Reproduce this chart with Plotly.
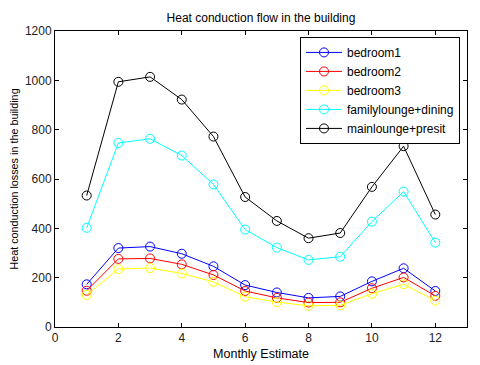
import plotly.graph_objects as go

months = list(range(1, 13))

bedroom1 = [173, 320, 326, 297, 246, 170, 140, 118, 124, 185, 238, 146]
bedroom2 = [147, 276, 278, 254, 211, 146, 118, 99, 100, 157, 201, 126]
bedroom3 = [130, 235, 239, 217, 183, 123, 101, 86, 88, 135, 173, 107]
family_lounge = [402, 746, 763, 695, 578, 395, 322, 272, 285, 427, 549, 342]
main_lounge = [533, 994, 1014, 922, 772, 527, 430, 360, 381, 568, 733, 456]

series = [
    ("bedroom1", bedroom1, "#0000ff"),
    ("bedroom2", bedroom2, "#ff0000"),
    ("bedroom3", bedroom3, "#ffff00"),
    ("familylounge+dining", family_lounge, "#00ffff"),
    ("mainlounge+presit", main_lounge, "#000000"),
]

x_ticks = [0, 2, 4, 6, 8, 10, 12]
y_ticks = [0, 200, 400, 600, 800, 1000, 1200]

font_family = "Liberation Sans, Arial"

# page body has an 8px margin, so the figure is a bit smaller than the window
W, H = 472, 357

fig = go.Figure()

for name, values, color in series:
    fig.add_trace(
        go.Scatter(
            x=months,
            y=values,
            mode="lines+markers",
            name=name,
            line=dict(color=color, width=1),
            marker=dict(symbol="circle-open", size=9, color=color,
                        line=dict(width=1, color=color)),
        )
    )

axis_style = dict(
    showline=True,
    linecolor="#000000",
    linewidth=1,
    mirror="ticks",
    ticks="inside",
    ticklen=4,
    tickcolor="#000000",
    showgrid=False,
    zeroline=False,
    automargin=False,
    tickfont=dict(family=font_family, size=12, color="#222222"),
)

fig.update_layout(
    width=W,
    height=H,
    paper_bgcolor="white",
    plot_bgcolor="white",
    margin=dict(l=47, r=13, t=23, b=38),
    title=dict(
        text="Heat conduction flow in the building",
        x=0.5,
        xref="paper",
        y=1 - 10 / H,
        yref="container",
        yanchor="middle",
        automargin=False,
        font=dict(family=font_family, size=12, color="#000000"),
    ),
    font=dict(family=font_family, size=12, color="#000000"),
    legend=dict(
        x=0.983,
        y=0.98,
        xanchor="right",
        yanchor="top",
        bgcolor="white",
        bordercolor="#000000",
        borderwidth=1,
        font=dict(family=font_family, size=12, color="#000000"),
        tracegroupgap=0,
        itemwidth=36,
    ),
)

fig.update_xaxes(
    range=[0, 13],
    tickvals=x_ticks,
    title=dict(text="Monthly Estimate", standoff=4,
               font=dict(family=font_family, size=12.5)),
    **axis_style,
)
fig.update_yaxes(
    range=[0, 1200],
    tickvals=y_ticks,
    title=dict(text="Heat conduction losses in the building", standoff=6,
               font=dict(family=font_family, size=10.8)),
    **axis_style,
)

fig.write_html("out.html")
